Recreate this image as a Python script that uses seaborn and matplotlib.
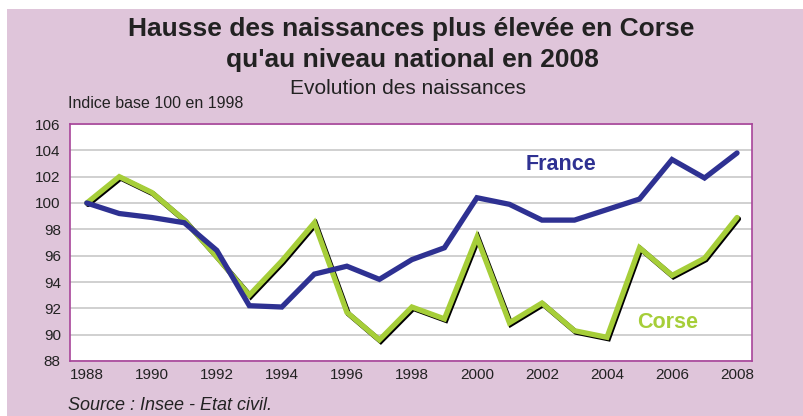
import matplotlib
matplotlib.use("Agg")
import matplotlib.pyplot as plt
import matplotlib.patheffects as pe
from matplotlib.patches import Rectangle
import seaborn as sns
import pandas as pd

years = list(range(1988, 2009))
france = [100.0, 99.2, 98.9, 98.5, 96.4, 92.2, 92.1, 94.6, 95.2, 94.2, 95.7,
          96.6, 100.4, 99.9, 98.7, 98.7, 99.5, 100.3, 103.3, 101.9, 103.8]
corse = [100.0, 102.0, 100.8, 98.7, 95.9, 93.0, 95.6, 98.5, 91.7, 89.6, 92.1,
         91.2, 97.4, 90.9, 92.4, 90.3, 89.8, 96.6, 94.5, 95.8, 98.9]
yticks = list(range(88, 107, 2))
xticks_labels = list(range(1988, 2009, 2))

sns.set_theme(style="white")
plt.rcParams['font.family'] = ['Liberation Sans', 'DejaVu Sans']

fig = plt.figure(figsize=(8.04, 4.16), dpi=100)
fig.patch.set_facecolor('white')
bg = Rectangle((7 / 804, 0), 1, 1 - 9 / 416, transform=fig.transFigure,
               facecolor='#dfc5da', edgecolor='none', zorder=-10)
fig.patches.append(bg)

ax = fig.add_axes([70.5 / 804, 1 - 361 / 416, (752 - 70.5) / 804, (361 - 124) / 416])
ax.set_facecolor('white')

df = pd.DataFrame({'year': years * 2,
                   'value': france + corse,
                   'serie': ['France'] * len(years) + ['Corse'] * len(years)})

navy = '#2e3192'
green = '#a6ce39'
sns.lineplot(data=df[df.serie == 'France'], x='year', y='value', color=navy,
             linewidth=3.8, ax=ax, zorder=4)
sns.lineplot(data=df[df.serie == 'Corse'], x='year', y='value', color=green,
             linewidth=3.8, ax=ax, zorder=3)
ax.lines[1].set_path_effects([pe.SimpleLineShadow(offset=(1.0, -1.0), shadow_color='black', alpha=1.0),
                              pe.Normal()])
ax.lines[0].set_solid_joinstyle('miter')
ax.lines[1].set_solid_joinstyle('miter')

ax.set_xlim(1987.5, 2008.46)
ax.set_ylim(88, 106)
ax.set_yticks(yticks)
ax.set_yticklabels([str(v) for v in yticks])
ax.set_xticks(years, minor=False)
ax.set_xticklabels([str(y) if y in xticks_labels else '' for y in years])
ax.yaxis.grid(True, color='#c8c8c8', linewidth=1.2)
ax.xaxis.grid(False)
for s in ax.spines.values():
    s.set_color('#a8449a')
    s.set_linewidth(1.2)
ax.tick_params(axis='x', direction='in', length=3, color='#bbbbbb', width=1,
               labelsize=11, pad=5, labelcolor='#222222')
ax.tick_params(axis='y', length=0, labelsize=11, pad=7, labelcolor='#222222')
ax.set_xlabel('')
ax.set_ylabel('')

ax.text(2002.6, 102.9, 'France', color=navy, fontsize=15.5, fontweight='bold',
        ha='center', va='center')
ax.text(2005.85, 90.9, 'Corse', color=green, fontsize=15.5, fontweight='bold',
        ha='center', va='center')

fig.text(411 / 804, 1 - 29 / 416, 'Hausse des naissances plus élevée en Corse',
         ha='center', va='center', fontsize=19, fontweight='bold', color='#222222')
fig.text(412 / 804, 1 - 60 / 416, "qu'au niveau national en 2008",
         ha='center', va='center', fontsize=19, fontweight='bold', color='#222222')
fig.text(408 / 804, 1 - 88 / 416, 'Evolution des naissances',
         ha='center', va='center', fontsize=15, color='#222222')
fig.text(68 / 804, 1 - 103 / 416, 'Indice base 100 en 1998',
         ha='left', va='center', fontsize=11.5, color='#222222')
fig.text(68 / 804, 1 - 405 / 416, 'Source : Insee - Etat civil.',
         ha='left', va='center', fontsize=13, style='italic', color='#222222')

fig.savefig('out.png', dpi=100)
